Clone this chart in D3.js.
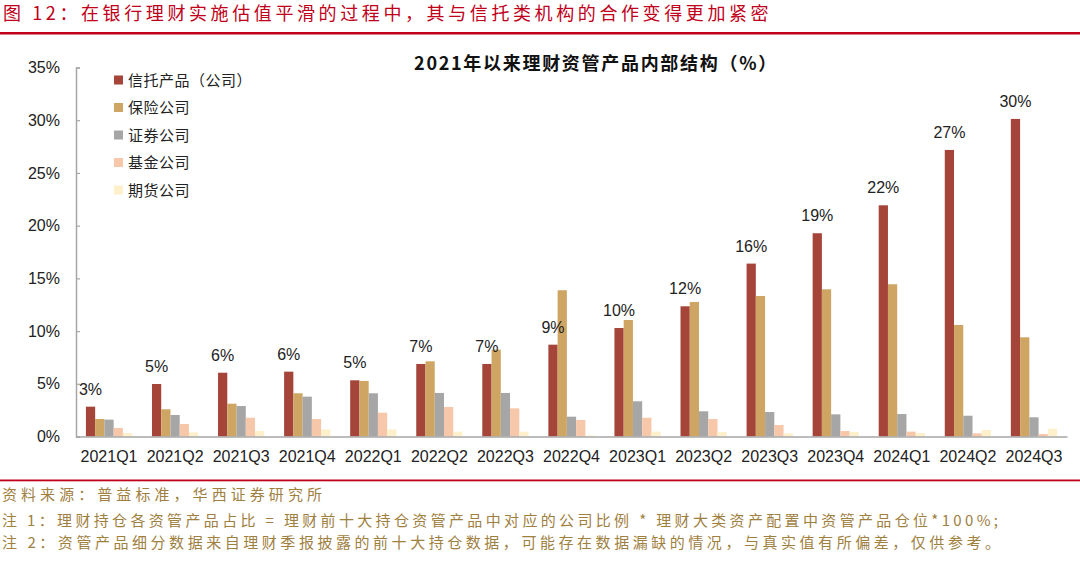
<!DOCTYPE html>
<html>
<head>
<meta charset="utf-8">
<script src="https://cdn.jsdelivr.net/npm/d3@7/dist/d3.min.js"></script>
<style>
  html, body { margin: 0; padding: 0; background: #fff; }
  svg { display: block; }
</style>
</head>
<body>
<svg id="chart" width="1080" height="563"></svg>
<script>
const categories = ["2021Q1","2021Q2","2021Q3","2021Q4","2022Q1","2022Q2","2022Q3","2022Q4","2023Q1","2023Q2","2023Q3","2023Q4","2024Q1","2024Q2","2024Q3"];
const seriesNames = ["信托产品（公司）","保险公司","证券公司","基金公司","期货公司"];
const trust      = [2.83,4.98,6.05,6.15,5.33,6.88,6.88,8.71,10.29,12.35,16.40,19.28,21.93,27.18,30.12];
const insurance  = [1.66,2.58,3.11,4.10,5.27,7.13,8.24,13.87,11.05,12.76,13.33,13.96,14.44,10.58,9.41];
const securities = [1.60,2.04,2.89,3.78,4.10,4.13,4.13,1.88,3.34,2.39,2.32,2.10,2.13,1.97,1.82];
const fund       = [0.81,1.19,1.78,1.66,2.26,2.80,2.67,1.57,1.78,1.66,1.09,0.52,0.46,0.30,0.24];
const futures    = [0.33,0.40,0.52,0.68,0.68,0.46,0.46,0.10,0.46,0.43,0.30,0.43,0.33,0.62,0.74];
const yTicks = [0,5,10,15,20,25,30,35];
const colors = ["#A5453A","#CEA563","#A6A6A6","#F7C7AA","#FFF0CC"];

const headerTitle = "图 12：在银行理财实施估值平滑的过程中，其与信托类机构的合作变得更加紧密";
const chartTitle = "2021年以来理财资管产品内部结构（%）";
const notes = [
  "资料来源：普益标准，华西证券研究所",
  "注 1：理财持仓各资管产品占比 = 理财前十大持仓资管产品中对应的公司比例 * 理财大类资产配置中资管产品仓位*100%;",
  "注 2：资管产品细分数据来自理财季报披露的前十大持仓数据，可能存在数据漏缺的情况，与真实值有所偏差，仅供参考。"
];

const allSeries = [trust, insurance, securities, fund, futures];
const svg = d3.select("#chart");
const latin = "'Liberation Sans', Arial, 'Noto Sans CJK SC', sans-serif";
const cjk = "'Noto Sans CJK SC', 'Liberation Sans', sans-serif";

// header
svg.append("text").attr("x", 3).attr("y", 20)
  .attr("font-family", cjk).attr("font-size", 18).attr("fill", "#C0001A")
  .attr("letter-spacing", 3.6)
  .text(headerTitle);
svg.append("rect").attr("x", 0).attr("y", 32).attr("width", 1080).attr("height", 2.5).attr("fill", "#C0001A");

// footer
svg.append("rect").attr("x", 0).attr("y", 479.5).attr("width", 1080).attr("height", 1.8).attr("fill", "#C0001A");
const noteY = [500, 526, 548];
const noteLen = [320, 996, 998];
notes.forEach((t, i) => {
  svg.append("text").attr("x", 2).attr("y", noteY[i])
    .attr("font-family", cjk).attr("font-size", 15).attr("fill", "#A0803F")
    .attr("textLength", noteLen[i]).attr("lengthAdjust", "spacing")
    .text(t);
});

// scales
const x0 = d3.scaleBand().domain(categories).range([76, 1067]).paddingInner(0.3).paddingOuter(0.15);
const x1 = d3.scaleBand().domain(d3.range(5)).range([0, x0.bandwidth()]).padding(0);
const y = d3.scaleLinear().domain([0, 35]).range([436.5, 67.5]);

// y axis
const yAxis = d3.axisLeft(y).tickValues(yTicks).tickFormat(d => d + "%")
  .tickSizeInner(-4).tickSizeOuter(-4).tickPadding(16);
const gy = svg.append("g").attr("transform", "translate(76,0)").call(yAxis);
gy.select(".domain").attr("stroke", "#A6A6A6").attr("stroke-width", 1.5);
gy.selectAll(".tick line").attr("stroke", "#A6A6A6").attr("stroke-width", 1.2);
gy.selectAll(".tick text").attr("font-family", latin).attr("font-size", 16).attr("fill", "#222");

// bars
const groups = svg.append("g").selectAll("g").data(categories).join("g")
  .attr("transform", d => `translate(${x0(d)},0)`);
groups.selectAll("rect").data((d, i) => allSeries.map((s, k) => ({k, v: s[i]}))).join("rect")
  .attr("x", d => x1(d.k))
  .attr("width", x1.bandwidth())
  .attr("y", d => y(d.v))
  .attr("height", d => y(0) - y(d.v))
  .attr("fill", d => colors[d.k]);

// x axis
const xAxis = d3.axisBottom(x0).tickSize(0).tickPadding(14);
const gx = svg.append("g").attr("transform", `translate(0,${y(0)})`).call(xAxis);
gx.select(".domain").attr("stroke", "#A6A6A6").attr("stroke-width", 1.5);
gx.selectAll(".tick text").attr("font-family", latin).attr("font-size", 16).attr("fill", "#222");

// value labels
svg.append("g").selectAll("text").data(categories).join("text")
  .attr("x", (d, i) => x0(d) + x1(0) + x1.bandwidth() / 2)
  .attr("y", (d, i) => y(trust[i]) - 12)
  .attr("text-anchor", "middle")
  .attr("font-family", latin).attr("font-size", 16).attr("fill", "#222")
  .text((d, i) => Math.round(trust[i]) + "%");

// title
svg.append("text").attr("x", 596).attr("y", 70).attr("text-anchor", "middle")
  .attr("font-family", cjk).attr("font-size", 18).attr("font-weight", "bold").attr("fill", "#111")
  .attr("letter-spacing", 1.7)
  .text(chartTitle);

// legend
const lg = svg.append("g");
seriesNames.forEach((n, i) => {
  const cy = 80 + i * 27.5;
  lg.append("rect").attr("x", 114).attr("y", cy - 4.5).attr("width", 9).attr("height", 9).attr("fill", colors[i]);
  lg.append("text").attr("x", 128).attr("y", cy + 5.5)
    .attr("font-family", cjk).attr("font-size", 15).attr("fill", "#222")
    .attr("letter-spacing", 0.5)
    .text(n);
});
</script>
</body>
</html>
